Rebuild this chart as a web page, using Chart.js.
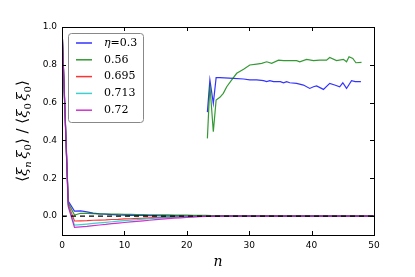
<!DOCTYPE html>
<html>
<head>
<meta charset="utf-8">
<script src="https://cdn.jsdelivr.net/npm/chart.js@4"></script>
<style>
  html, body { margin: 0; padding: 0; background: #fff; }
  #wrap { width: 415px; height: 277px; }
</style>
</head>
<body>
<div id="wrap"><canvas id="corrChart" width="415" height="277"></canvas></div>
<script>
// lag n for the decaying curves
var lags = [0, 1, 2, 3, 4, 5, 6, 7, 8, 9, 10, 11, 12, 13, 14, 15, 16, 17, 18, 19, 20,
    21, 22, 23, 24, 25, 26, 27, 28, 29, 30, 31, 32, 33, 34, 35, 36, 37, 38, 39, 40,
    41, 42, 43, 44, 45, 46, 47, 48, 49, 50];

var eta030 = [1.0, 0.080, 0.026, 0.028, 0.022, 0.016, 0.012, 0.010, 0.008, 0.006, 0.005,
    0.004, 0.003, 0.003, 0.002, 0.002, 0.001, 0.001, 0.001, 0.001, 0.0,
    0.0, 0.0, 0.0, 0.0, 0.0, 0.0, 0.0, 0.0, 0.0, 0.0, 0.0, 0.0, 0.0, 0.0, 0.0,
    0.0, 0.0, 0.0, 0.0, 0.0, 0.0, 0.0, 0.0, 0.0, 0.0, 0.0, 0.0, 0.0, 0.0, 0.0];
var eta056 = [1.0, 0.070, 0.005, 0.015, 0.014, 0.013, 0.012, 0.011, 0.010, 0.010, 0.009,
    0.009, 0.008, 0.008, 0.007, 0.007, 0.006, 0.006, 0.005, 0.005, 0.005,
    0.004, 0.004, 0.004, 0.003, 0.003, 0.003, 0.003, 0.002, 0.002, 0.002, 0.002, 0.002,
    0.002, 0.002, 0.001, 0.001, 0.001, 0.001, 0.001, 0.001, 0.001, 0.001, 0.001, 0.001,
    0.001, 0.001, 0.001, 0.001, 0.001, 0.001];
var eta0695 = [1.0, 0.062, -0.026, -0.025, -0.024, -0.022, -0.021, -0.020, -0.018, -0.017, -0.015,
    -0.014, -0.012, -0.011, -0.009, -0.008, -0.007, -0.005, -0.004, -0.003, -0.002,
    -0.001, -0.001, 0.0, 0.0, 0.0, 0.0, 0.0, 0.0, 0.0, 0.0, 0.0, 0.0, 0.0, 0.0, 0.0,
    0.0, 0.0, 0.0, 0.0, 0.0, 0.0, 0.0, 0.0, 0.0, 0.0, 0.0, 0.0, 0.0, 0.0, 0.0];
var eta0713 = [1.0, 0.056, -0.048, -0.045, -0.042, -0.039, -0.036, -0.033, -0.030, -0.027, -0.024,
    -0.021, -0.019, -0.016, -0.014, -0.011, -0.009, -0.007, -0.005, -0.003, -0.002,
    -0.001, -0.001, 0.0, 0.0, 0.0, 0.0, 0.0, 0.0, 0.0, 0.0, 0.0, 0.0, 0.0, 0.0, 0.0,
    0.0, 0.0, 0.0, 0.0, 0.0, 0.0, 0.0, 0.0, 0.0, 0.0, 0.0, 0.0, 0.0, 0.0, 0.0];
var eta072 = [1.0, 0.050, -0.060, -0.057, -0.054, -0.050, -0.047, -0.044, -0.040, -0.037, -0.034,
    -0.031, -0.028, -0.025, -0.022, -0.019, -0.016, -0.013, -0.011, -0.009, -0.007,
    -0.005, -0.003, -0.002, -0.001, 0.0, 0.0, 0.0, 0.0, 0.0, 0.0, 0.0, 0.0, 0.0, 0.0, 0.0,
    0.0, 0.0, 0.0, 0.0, 0.0, 0.0, 0.0, 0.0, 0.0, 0.0, 0.0, 0.0, 0.0, 0.0, 0.0];

// the two curves that sit high up on the right
var blueHighX = [23.3, 23.7, 24.25, 24.7, 25.3, 27.5, 29.1, 30.1, 31.2, 32.3, 32.8, 33.3, 33.9,
    35.0, 35.5, 36.0, 36.5, 37.6, 38.7, 39.7, 40.3, 40.8, 41.9, 42.9, 43.7, 44.5, 45.0, 45.6,
    46.4, 47.0, 47.9];
var blueHighY = [0.55, 0.72, 0.596, 0.732, 0.732, 0.728, 0.725, 0.72, 0.72, 0.716, 0.711, 0.716,
    0.711, 0.711, 0.705, 0.711, 0.705, 0.702, 0.693, 0.675, 0.684, 0.688, 0.670, 0.702, 0.693,
    0.684, 0.705, 0.675, 0.716, 0.711, 0.711];
var greenHighX = [23.3, 23.7, 24.25, 24.7, 25.3, 25.85, 26.4, 27.2, 28.0, 29.1, 30.1, 31.2, 32.0,
    32.8, 33.6, 34.7, 35.5, 36.5, 37.6, 38.1, 39.2, 40.3, 41.3, 42.4, 42.9, 44.0, 45.1, 45.6,
    46.0, 46.6, 47.1, 48.0];
var greenHighY = [0.411, 0.693, 0.446, 0.614, 0.628, 0.649, 0.684, 0.72, 0.755, 0.776, 0.799,
    0.804, 0.808, 0.816, 0.808, 0.825, 0.822, 0.822, 0.822, 0.816, 0.829, 0.822, 0.825, 0.825,
    0.839, 0.822, 0.829, 0.816, 0.843, 0.834, 0.811, 0.813];

var etaLabels = ['0.3', '0.56', '0.695', '0.713', '0.72'];
var lineColors = ['rgba(0,0,255,0.8)', 'rgba(0,128,0,0.8)', 'rgba(255,0,0,0.8)',
    'rgba(0,191,191,0.75)', 'rgba(191,0,191,0.8)'];
var yTicks = [0.0, 0.2, 0.4, 0.6, 0.8, 1.0];
var xTicks = [0, 10, 20, 30, 40, 50];

function pts(xs, ys) {
    return xs.map(function (x, i) { return { x: x, y: ys[i] }; });
}

var lowSeries = [eta030, eta056, eta0695, eta0713, eta072];
var datasets = lowSeries.map(function (s, i) {
    return {
        label: etaLabels[i],
        data: pts(lags, s),
        borderColor: lineColors[i],
        borderWidth: 1.2,
        order: 10 - i
    };
});
datasets.push({ label: '', data: pts(blueHighX, blueHighY), borderColor: lineColors[0], borderWidth: 1.2, order: 10 });
datasets.push({ label: '', data: pts(greenHighX, greenHighY), borderColor: lineColors[1], borderWidth: 1.2, order: 9 });
datasets.push({ label: '', data: pts([0, 50], [0, 0]), borderColor: '#000', borderWidth: 1.2, borderDash: [5, 4], order: 0 });

var serif = '"DejaVu Serif", "Liberation Serif", serif';

var decor = {
    id: 'decor',
    afterDraw: function (chart) {
        var c = chart.ctx, a = chart.chartArea;
        var xs = chart.scales.x, ys = chart.scales.y;
        c.save();
        // frame
        c.strokeStyle = '#000';
        c.lineWidth = 1;
        c.strokeRect(Math.round(a.left) + 0.5, Math.round(a.top) + 0.5,
            Math.round(a.right - a.left), Math.round(a.bottom - a.top));
        // inward ticks on all sides
        xTicks.forEach(function (v) {
            var px = Math.round(xs.getPixelForValue(v)) + 0.5;
            c.beginPath();
            c.moveTo(px, a.bottom); c.lineTo(px, a.bottom - 4);
            c.moveTo(px, a.top); c.lineTo(px, a.top + 4);
            c.stroke();
        });
        yTicks.forEach(function (v) {
            var py = Math.round(ys.getPixelForValue(v)) + 0.5;
            c.beginPath();
            c.moveTo(a.left, py); c.lineTo(a.left + 4, py);
            c.moveTo(a.right, py); c.lineTo(a.right - 4, py);
            c.stroke();
        });

        // x axis label
        c.fillStyle = '#000';
        c.font = 'italic 14px ' + serif;
        c.textAlign = 'center';
        c.textBaseline = 'alphabetic';
        c.fillText('n', (a.left + a.right) / 2, 266);

        // y axis label, rotated, built piece by piece for subscripts
        c.save();
        c.translate(27, (a.top + a.bottom) / 2);
        c.rotate(-Math.PI / 2);
        var parts = [
            ['\u27E8', 15, 0, ''], ['\u03BE', 15, 0, 'italic '], ['n', 10, 4, 'italic '],
            [' ', 8, 0, ''], ['\u03BE', 15, 0, 'italic '], ['0', 10, 4, ''], ['\u27E9', 15, 0, ''],
            [' / ', 15, 0, ''],
            ['\u27E8', 15, 0, ''], ['\u03BE', 15, 0, 'italic '], ['0', 10, 4, ''],
            [' ', 8, 0, ''], ['\u03BE', 15, 0, 'italic '], ['0', 10, 4, ''], ['\u27E9', 15, 0, '']
        ];
        var total = 0;
        parts.forEach(function (p) {
            c.font = p[3] + p[1] + 'px ' + serif;
            total += c.measureText(p[0]).width;
        });
        var cx = -total / 2;
        c.textAlign = 'left';
        parts.forEach(function (p) {
            c.font = p[3] + p[1] + 'px ' + serif;
            c.fillText(p[0], cx, p[2]);
            cx += c.measureText(p[0]).width;
        });
        c.restore();

        // legend box
        var lx = 68, ly = 33, lw = 75, lh = 89;
        c.fillStyle = '#fff';
        c.strokeStyle = '#888';
        c.lineWidth = 1;
        c.beginPath();
        c.roundRect(lx + 0.5, ly + 0.5, lw, lh, 3);
        c.fill();
        c.stroke();
        etaLabels.forEach(function (lab, i) {
            var ry = 43 + i * 16.8;
            c.strokeStyle = lineColors[i];
            c.lineWidth = 1.5;
            c.beginPath();
            c.moveTo(76, ry); c.lineTo(92, ry);
            c.stroke();
            c.fillStyle = '#000';
            c.textBaseline = 'middle';
            c.textAlign = 'left';
            var tx = 104;
            if (i === 0) {
                c.font = 'italic 11px ' + serif;
                c.fillText('\u03B7', tx, ry);
                tx += c.measureText('\u03B7').width;
                c.font = '11px ' + serif;
                c.fillText('=' + lab, tx, ry);
            } else {
                c.font = '11px ' + serif;
                c.fillText(lab, tx, ry);
            }
        });
        c.restore();
    }
};

new Chart(document.getElementById('corrChart'), {
    type: 'line',
    data: { datasets: datasets },
    options: {
        responsive: false,
        animation: false,
        parsing: true,
        elements: { point: { radius: 0 }, line: { tension: 0 } },
        layout: { padding: { left: 0, top: 27, right: 41, bottom: 0 } },
        plugins: { legend: { display: false }, tooltip: { enabled: false } },
        scales: {
            x: {
                type: 'linear',
                min: 0,
                max: 50,
                afterBuildTicks: function (s) { s.ticks = xTicks.map(function (v) { return { value: v }; }); },
                afterFit: function (s) { s.height = 42; },
                grid: { display: false, drawTicks: false },
                border: { display: false },
                ticks: {
                    color: '#000',
                    padding: 5,
                    maxRotation: 0,
                    font: { family: '"DejaVu Sans", sans-serif', size: 9 }
                }
            },
            y: {
                type: 'linear',
                min: -0.1,
                max: 1.0,
                afterBuildTicks: function (s) { s.ticks = yTicks.map(function (v) { return { value: v }; }); },
                afterFit: function (s) { s.width = 62; },
                grid: { display: false, drawTicks: false },
                border: { display: false },
                ticks: {
                    color: '#000',
                    padding: 5,
                    callback: function (v) { return Number(v).toFixed(1); },
                    font: { family: '"DejaVu Sans", sans-serif', size: 9 }
                }
            }
        }
    },
    plugins: [decor]
});
</script>
</body>
</html>
